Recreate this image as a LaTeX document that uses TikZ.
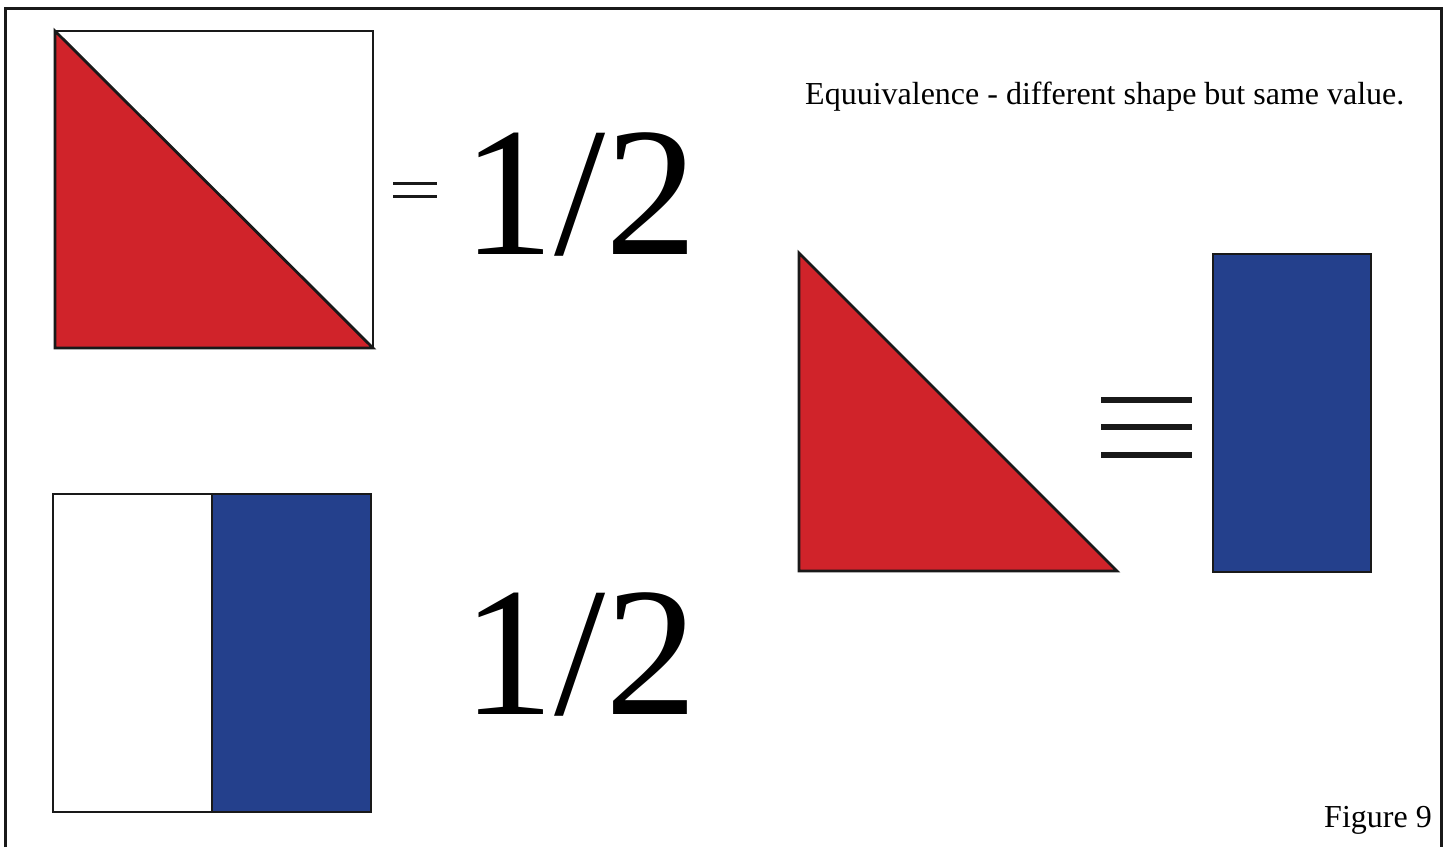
\documentclass[tikz,border=0pt]{standalone}
\usepackage{fontspec}
\setmainfont{Liberation Serif}
\usepackage{xcolor}
\definecolor{halfred}{RGB}{208,35,42}
\definecolor{halfblue}{RGB}{36,64,140}

\begin{document}
\begin{tikzpicture}[x=1pt, y=-1pt, line join=miter,
    outline/.style={draw=black!90, line width=2.8pt},
    bigfrac/.style={anchor=base west, inner sep=0pt, font=\fontsize{184}{190}\selectfont},
    caption/.style={anchor=base west, inner sep=0pt, font=\fontsize{32}{36}\selectfont}]
                \useasboundingbox (0,0) rectangle (1450,847);
                \draw[black!90, line width=3pt] (5,847) -- (5,8.5) -- (1441.5,8.5) -- (1441.5,847);
                % half of a square by its diagonal
                \filldraw[outline, fill=white] (55,31) rectangle (373,348);
                \filldraw[outline, fill=halfred] (55,31) -- (55,348) -- (373,348) -- cycle;
                \draw[black!90, line width=3.5pt] (393,183.5) -- (437,183.5) (393,196.5) -- (437,196.5);
                \node (frac1) [bigfrac] at (462,254) {1/2};
                % half of a square by a vertical cut
                \filldraw[outline, fill=white] (53,494) rectangle (212,812);
                \filldraw[outline, fill=halfblue] (212,494) rectangle (371,812);
                \node (frac2) [bigfrac] at (462,714) {1/2};
                % equivalent halves
                \node (title) [caption] at (805,104) {Equuivalence - different shape but same value.};
                \filldraw[outline, fill=halfred] (799,253) -- (799,571) -- (1117,571) -- cycle;
                \draw[black!90, line width=6pt] (1101,399.5) -- (1192,399.5) (1101,427) -- (1192,427) (1101,454.5) -- (1192,454.5);
                \filldraw[outline, fill=halfblue] (1213,254) rectangle (1371,572);
                \node (fig) [caption] at (1324,827) {Figure 9};
            \end{tikzpicture}
\end{document}
